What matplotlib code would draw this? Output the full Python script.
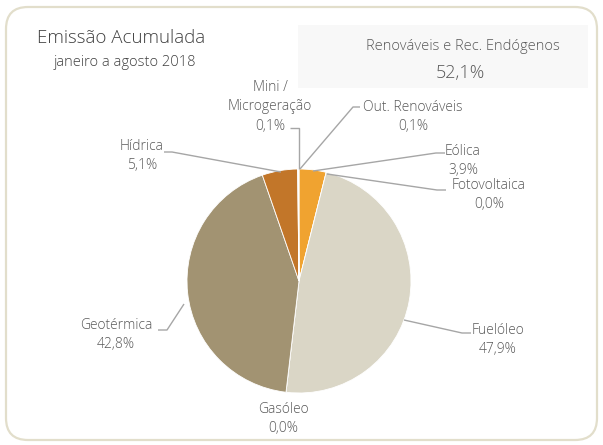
import matplotlib
matplotlib.use("Agg")
import matplotlib.pyplot as plt
from matplotlib.patches import FancyBboxPatch, Rectangle

categories = ["Eólica", "Fotovoltaica", "Fuelóleo", "Gasóleo", "Geotérmica",
              "Hídrica", "Mini /\nMicrogeração", "Out. Renováveis"]
values = [3.9, 0.0, 47.9, 0.0, 42.8, 5.1, 0.1, 0.1]
labels_pct = ["3,9%", "0,0%", "47,9%", "0,0%", "42,8%", "5,1%", "0,1%", "0,1%"]
colors = ["#F0A330", "#E8E4D8", "#DAD6C6", "#B8AE94", "#A29372", "#C27629", "#9A9A9A", "#B0B0B0"]
title = "Emissão Acumulada"
subtitle = "janeiro a agosto 2018"
box_label = "Renováveis e Rec. Endógenos"
box_value = "52,1%"

W, H = 603, 445
plt.rcParams["hatch.linewidth"] = 0.5
plt.rcParams["hatch.color"] = "#DCDCDC"
fig = plt.figure(figsize=(W / 100, H / 100), dpi=100)
ax = fig.add_axes([0, 0, 1, 1])

def Y(y):
    return H - y

FONT = "Open Sans"
TXT = "#595959"
LINE = "#A6A6A6"

# frame
frame = FancyBboxPatch((6, Y(440)), 591, 433, boxstyle="round,pad=0,rounding_size=22",
                       fc="white", ec="#E2DECB", lw=1.6, zorder=0)
ax.add_patch(frame)

# hatched box
box = Rectangle((298, Y(88)), 290, 63, fc="#F8F8F8", ec="none", hatch="++++++", zorder=1)
ax.add_patch(box)

ax.text(37, Y(38), title, fontsize=13.5, color="#404040", family=FONT, fontweight="light",
        ha="left", va="center")
ax.text(54, Y(62), subtitle, fontsize=10.5, color="#404040", family=FONT, fontweight="light",
        ha="left", va="center")
ax.text(463, Y(46), box_label, fontsize=10.5, color=TXT, family=FONT, fontweight="light",
        ha="center", va="center", zorder=3)
ax.text(460, Y(73), box_value, fontsize=13, color=TXT, family=FONT, fontweight="light",
        ha="center", va="center", zorder=3)

# pie
cx, cy, r = 299, 281, 112
wedges, _ = ax.pie(values, colors=colors, center=(cx, Y(cy)), radius=r,
                   startangle=90, counterclock=False,
                   wedgeprops=dict(edgecolor="white", linewidth=0.6), frame=True)
ax.set_xlim(0, W)
ax.set_ylim(0, H)
ax.set_aspect("equal")
ax.axis("off")

lab_fs = 10
def label(text, x, y, ha="center"):
    ax.text(x, Y(y), text, fontsize=lab_fs, color=TXT, family=FONT, fontweight="light",
            ha=ha, va="center", linespacing=1.4)

def leader(pts):
    xs = [p[0] for p in pts]
    ys = [Y(p[1]) for p in pts]
    ax.plot(xs, ys, color=LINE, lw=1.0, zorder=4, solid_capstyle="butt")

# labels and leader lines
label(categories[0] + "\n" + labels_pct[0], 463, 161)
leader([(313, 171), (436, 153), (445, 153)])

label(categories[1] + "\n" + labels_pct[1], 489, 195)
leader([(327, 174), (437, 190), (446, 190)])

label(categories[2] + "\n" + labels_pct[2], 498, 340)
leader([(404, 320), (462, 333), (471, 333)])

label(categories[3] + "\n" + labels_pct[3], 283, 419)

label(categories[4] + "\n" + labels_pct[4], 116, 335)
leader([(184, 304), (167, 330), (158, 330)])

label(categories[5] + "\n" + labels_pct[5], 142, 156)
leader([(281, 172), (172, 152), (164, 152)])

label(categories[6] + "\n" + labels_pct[6], 270, 107)
leader([(299, 169), (299, 128), (290, 128)])

label(categories[7] + "\n" + labels_pct[7], 413, 117)
leader([(300, 169), (353, 107), (360, 107)])

fig.savefig("out.png", dpi=100)
